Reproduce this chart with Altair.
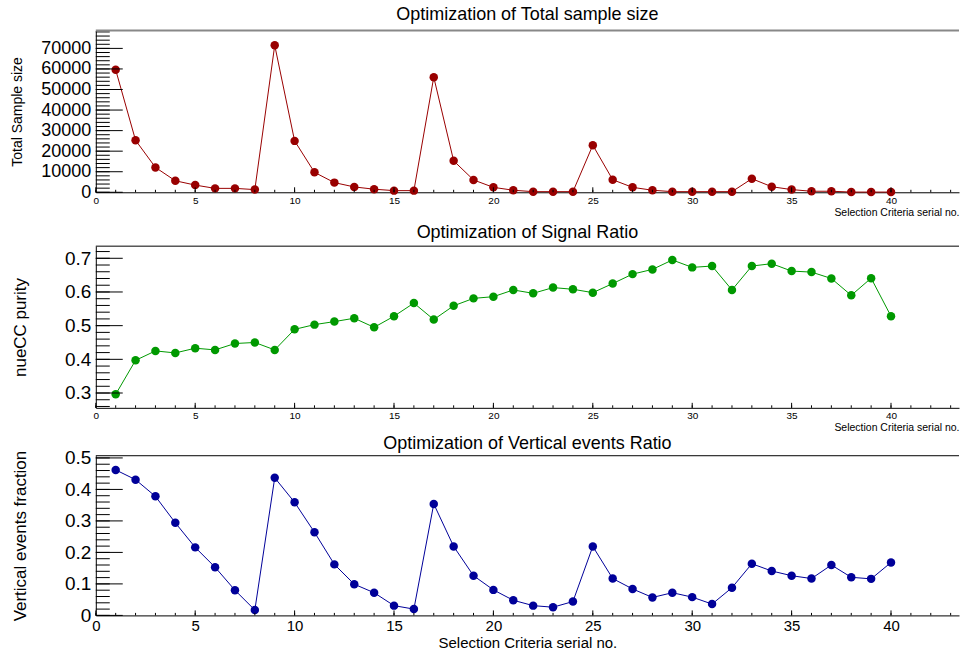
import altair as alt
import pandas as pd

# Selection-criteria serial numbers and the three optimisation figures of merit
serial = list(range(1, 41))
sample_size = [59600, 25300, 12100, 5600, 3500, 1900, 1900, 1300, 71500, 25000,
               9700, 4700, 2600, 1500, 800, 800, 56000, 15300, 6000, 2400,
               1000, 300, 300, 300, 22900, 6100, 2400, 1000, 300, 300,
               300, 300, 6600, 2700, 1300, 500, 500, 100, 100, 100]
purity = [0.296, 0.397, 0.425, 0.419, 0.433, 0.428, 0.447, 0.450, 0.428, 0.489,
          0.503, 0.512, 0.522, 0.495, 0.528, 0.567, 0.518, 0.559, 0.581, 0.586,
          0.606, 0.596, 0.613, 0.608, 0.598, 0.625, 0.653, 0.667, 0.695, 0.673,
          0.677, 0.606, 0.677, 0.684, 0.662, 0.659, 0.640, 0.590, 0.641, 0.528]
vertical_frac = [0.462, 0.431, 0.378, 0.294, 0.216, 0.153, 0.080, 0.017, 0.437, 0.359,
                 0.264, 0.162, 0.099, 0.072, 0.031, 0.020, 0.354, 0.219, 0.126, 0.081,
                 0.048, 0.031, 0.026, 0.044, 0.219, 0.117, 0.084, 0.057, 0.072, 0.058,
                 0.036, 0.088, 0.164, 0.141, 0.126, 0.117, 0.160, 0.121, 0.116, 0.168]

# Axis tick positions (ROOT-like: labelled major ticks, unlabelled minor ticks)
x_major = [0, 5, 10, 15, 20, 25, 30, 35, 40]
x_minor = list(range(0, 44))
p1_major = [0, 10000, 20000, 30000, 40000, 50000, 60000, 70000]
p1_minor = list(range(0, 78001, 2000))
p2_major = [0.3, 0.4, 0.5, 0.6, 0.7]
p2_minor = [round(0.26 + 0.02 * i, 2) for i in range(24)]
p3_major = [0, 0.1, 0.2, 0.3, 0.4, 0.5]
p3_minor = [round(0.02 * i, 2) for i in range(26)]

FONT = "Liberation Sans"
W = 865
X_DOMAIN = [0, 43.42]
XTITLE = "Selection Criteria serial no."


def panel(values, color, title, ytitle, ydomain, ymajor, yminor, height,
          yfmt, ylabel_size, ytitle_size, ytitle_x, xlabel_size, xtitle_size,
          xtitle_anchor, frame_color, frame_width, title_offset, spacer=0):
    df = pd.DataFrame({"serial": serial, "value": values})
    xs = alt.Scale(domain=X_DOMAIN, nice=False, zero=False)
    ys = alt.Scale(domain=ydomain, nice=False, zero=False)

    x_axis = alt.Axis(values=x_major, format="d", ticks=False, grid=False,
                      domainColor="black", domainWidth=1, labelColor="black",
                      labelFont=FONT, labelFontSize=xlabel_size, labelPadding=3,
                      labelFlush=False, labelOverlap=False,
                      title=XTITLE, titleFont=FONT, titleFontSize=xtitle_size,
                      titleFontWeight="normal", titleColor="black",
                      titleAnchor=xtitle_anchor, titlePadding=2)
    y_axis = alt.Axis(values=ymajor, format=yfmt, ticks=False, grid=False,
                      domainColor="black", domainWidth=1, labelColor="black",
                      labelFont=FONT, labelFontSize=ylabel_size, labelPadding=5,
                      labelFlush=False, labelOverlap=False,
                      title=ytitle, titleFont=FONT, titleFontSize=ytitle_size,
                      titleFontWeight="normal", titleColor="black",
                      titleX=ytitle_x, titleBaseline="middle")

    X = lambda f: alt.X(f, scale=xs, axis=x_axis)
    Y = lambda f: alt.Y(f, scale=ys, axis=y_axis)

    line = alt.Chart(df).mark_line(color=color, strokeWidth=1).encode(
        x=X("serial:Q"), y=Y("value:Q"))
    points = alt.Chart(df).mark_circle(color=color, size=72, opacity=1).encode(
        x=X("serial:Q"), y=Y("value:Q"))

    # inward-pointing ticks on the left axis
    y_maj = alt.Chart(pd.DataFrame({"value": ymajor})).mark_rule(
        color="black", strokeWidth=1).encode(
        y=Y("value:Q"), x=alt.value(0), x2=alt.value(27))
    y_min = alt.Chart(pd.DataFrame({"value": yminor})).mark_rule(
        color="black", strokeWidth=1).encode(
        y=Y("value:Q"), x=alt.value(0), x2=alt.value(14))
    # inward-pointing ticks on the bottom axis
    x_maj = alt.Chart(pd.DataFrame({"serial": x_major})).mark_rule(
        color="black", strokeWidth=1).encode(
        x=X("serial:Q"), y=alt.value(height), y2=alt.value(height - 5))
    x_min = alt.Chart(pd.DataFrame({"serial": x_minor})).mark_rule(
        color="black", strokeWidth=1).encode(
        x=X("serial:Q"), y=alt.value(height), y2=alt.value(height - 2.5))
    # top frame line
    top = alt.Chart(pd.DataFrame({"k": [0]})).mark_rule(
        color=frame_color, strokeWidth=frame_width).encode(
        x=alt.value(0), x2=alt.value(W), y=alt.value(0))

    layers = [line, points, y_min, y_maj, x_min, x_maj, top]
    if spacer:
        gap = alt.Chart(pd.DataFrame({"k": [0]})).mark_rule(
            color="white", strokeOpacity=0).encode(
            x=alt.value(-40), y=alt.value(height), y2=alt.value(height + spacer))
        layers.append(gap)

    return alt.layer(*layers).properties(
        width=W, height=height,
        title=alt.TitleParams(title, font=FONT, fontSize=18, fontWeight="normal",
                              color="black", anchor="middle", frame="group",
                              offset=title_offset),
    )


p1 = panel(sample_size, "#990000", "Optimization of Total sample size",
           "Total Sample size", [0, 78650], p1_major, p1_minor, 162,
           "d", 18, 14, -78, 10, 10.5, "end", "#888888", 2, 5.5, spacer=29.5)
p2 = panel(purity, "#009900", "Optimization of Signal Ratio",
           "nueCC purity", [0.256, 0.736], p2_major, p2_minor, 162,
           "~g", 19, 17, -75, 10, 10.5, "end", "black", 1, 4)
p3 = panel(vertical_frac, "#000099", "Optimization of Vertical events Ratio",
           "Vertical events fraction", [0, 0.507], p3_major, p3_minor, 160,
           "~g", 19, 17, -75, 15, 15, "middle", "black", 1, -4)

chart = alt.vconcat(p1, p2, p3, spacing=1).properties(
    padding={"left": 10, "top": 5, "right": 0, "bottom": 0},
    background="white",
).configure_view(stroke=None)

chart.save("out.html", embed_options={"renderer": "svg", "actions": False})
